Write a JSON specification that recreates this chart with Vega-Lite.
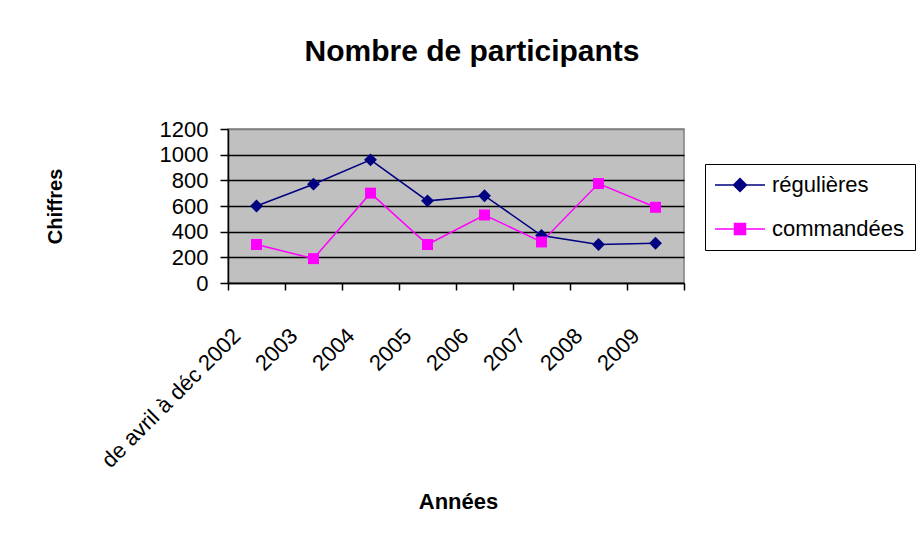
{
  "$schema": "https://vega.github.io/schema/vega-lite/v6.json",
  "width": 456,
  "height": 154,
  "autosize": {"type": "none"},
  "padding": {"left": 228, "top": 129, "right": 237, "bottom": 254},
  "background": "white",
  "config": {
    "font": "Liberation Sans",
    "view": {"fill": "#C0C0C0", "stroke": "#808080", "strokeWidth": 1.5}
  },
  "title": {
    "text": "Nombre de participants",
    "font": "Liberation Sans",
    "fontSize": 30,
    "fontWeight": "bold",
    "color": "black",
    "anchor": "middle",
    "frame": "group",
    "baseline": "alphabetic",
    "dx": 16,
    "offset": 27
  },
  "data": {
    "values": [
      {"annee": "de avril à déc 2002", "serie": "régulières", "valeur": 600},
      {"annee": "2003", "serie": "régulières", "valeur": 770},
      {"annee": "2004", "serie": "régulières", "valeur": 960},
      {"annee": "2005", "serie": "régulières", "valeur": 640},
      {"annee": "2006", "serie": "régulières", "valeur": 680},
      {"annee": "2007", "serie": "régulières", "valeur": 370},
      {"annee": "2008", "serie": "régulières", "valeur": 300},
      {"annee": "2009", "serie": "régulières", "valeur": 310},
      {"annee": "de avril à déc 2002", "serie": "commandées", "valeur": 300},
      {"annee": "2003", "serie": "commandées", "valeur": 190},
      {"annee": "2004", "serie": "commandées", "valeur": 700},
      {"annee": "2005", "serie": "commandées", "valeur": 300},
      {"annee": "2006", "serie": "commandées", "valeur": 530},
      {"annee": "2007", "serie": "commandées", "valeur": 320},
      {"annee": "2008", "serie": "commandées", "valeur": 775},
      {"annee": "2009", "serie": "commandées", "valeur": 590}
    ]
  },
  "encoding": {
    "x": {
      "field": "annee",
      "type": "nominal",
      "sort": null,
      "scale": {"type": "band", "paddingInner": 0, "paddingOuter": 0},
      "axis": {
        "title": "Années",
        "titleFont": "Liberation Sans",
        "titleFontSize": 22,
        "titleFontWeight": "bold",
        "titleColor": "black",
        "titleX": 230,
        "titleY": 225,
        "titleAlign": "center",
        "titleBaseline": "alphabetic",
        "domainColor": "black",
        "domainWidth": 1.5,
        "tickColor": "black",
        "tickWidth": 1.5,
        "tickSize": 7,
        "tickBand": "extent",
        "grid": false,
        "labelAngle": -45,
        "labelAlign": "right",
        "labelBaseline": "middle",
        "labelFontSize": 22,
        "labelColor": "black",
        "labelPadding": 42,
        "labelOffset": -20,
        "labelLimit": 400,
        "labelOverlap": false
      }
    },
    "y": {
      "field": "valeur",
      "type": "quantitative",
      "scale": {"domain": [0, 1200], "nice": false},
      "axis": {
        "title": "Chiffres",
        "titleFont": "Liberation Sans",
        "titleFontSize": 20,
        "titleFontWeight": "bold",
        "titleColor": "black",
        "titleAngle": -90,
        "titleX": -173,
        "titleY": 77,
        "titleAlign": "center",
        "titleBaseline": "middle",
        "values": [0, 200, 400, 600, 800, 1000, 1200],
        "format": "d",
        "domainColor": "black",
        "domainWidth": 1.5,
        "tickColor": "black",
        "tickWidth": 1.5,
        "tickSize": 8,
        "grid": true,
        "gridColor": {"condition": {"test": "datum.value == 1200", "value": "#808080"}, "value": "black"},
        "gridWidth": 1.5,
        "labelFontSize": 22,
        "labelColor": "black",
        "labelPadding": 12
      }
    }
  },
  "layer": [
    {
      "mark": {"type": "line", "strokeWidth": 1.5},
      "encoding": {
        "color": {
          "field": "serie",
          "type": "nominal",
          "sort": null,
          "scale": {"domain": ["régulières", "commandées"], "range": ["#000080", "#FF00FF"]},
          "legend": {
            "title": null,
            "orient": "none",
            "legendX": 477,
            "legendY": 35,
            "direction": "vertical",
            "padding": 10,
            "strokeColor": "black",
            "symbolSize": 400,
            "symbolOffset": 14,
            "labelOffset": 21,
            "labelFont": "Liberation Sans",
            "labelFontSize": 22,
            "labelColor": "black",
            "labelLimit": 400,
            "rowPadding": 22,
            "encode": {
              "symbols": {
                "update": {
                  "shape": {"signal": "datum.value == 'régulières' ? 'M-2.5,0H2.5M0,-0.65L0.65,0L0,0.65L-0.65,0Z' : 'M-2.5,0H2.5M-0.55,-0.55H0.55V0.55H-0.55Z'"},
                  "fill": {"signal": "datum.value == 'régulières' ? '#000080' : '#FF00FF'"},
                  "stroke": {"signal": "datum.value == 'régulières' ? '#000080' : '#FF00FF'"},
                  "strokeWidth": {"value": 1.5},
                  "opacity": {"value": 1}
                }
              }
            }
          }
        }
      }
    },
    {
      "transform": [{"filter": "datum.serie == 'régulières'"}],
      "mark": {"type": "point", "filled": true, "opacity": 1, "shape": "diamond", "size": 165, "color": "#000080"}
    },
    {
      "transform": [{"filter": "datum.serie == 'commandées'"}],
      "mark": {"type": "point", "filled": true, "opacity": 1, "shape": "square", "size": 121, "color": "#FF00FF"}
    }
  ]
}
